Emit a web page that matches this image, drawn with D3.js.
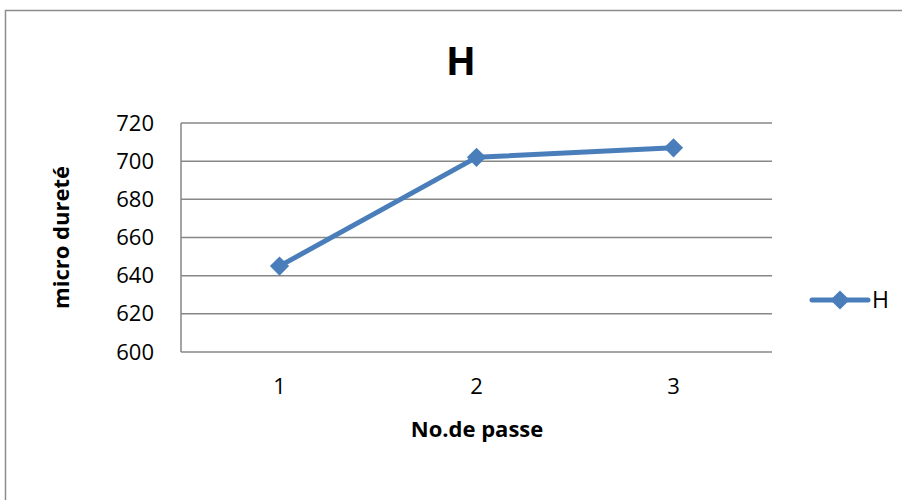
<!DOCTYPE html>
<html>
<head>
<meta charset="utf-8">
<script src="https://cdn.jsdelivr.net/npm/d3@7"></script>
<style>
  body { margin: 0; background: #fff; }
  svg { display: block; font-family: "Open Sans", "Liberation Sans", sans-serif; }
</style>
</head>
<body>
<svg id="chart" width="902" height="500"></svg>
<script>
const svg = d3.select("#chart");

// données
const passes = ["1", "2", "3"];
const hValues = [645, 702, 707];
const yTicks = [600, 620, 640, 660, 680, 700, 720];
const seriesName = "H";

const lineColor = "#4a7ebb";
const gridColor = "#878787";

// bordure du graphique
svg.append("rect")
    .attr("x", 5.5).attr("y", 10.5)
    .attr("width", 930).attr("height", 530)
    .attr("fill", "#fff")
    .attr("stroke", "#8c8c8c")
    .attr("stroke-width", 1.5);

const plot = { left: 181, right: 772, top: 123, bottom: 352 };

const x = d3.scaleBand()
    .domain(passes)
    .range([plot.left, plot.right]);

const y = d3.scaleLinear()
    .domain([600, 720])
    .range([plot.bottom, plot.top]);

// grille horizontale
svg.append("g")
    .selectAll("line")
    .data(yTicks)
    .enter().append("line")
    .attr("x1", plot.left).attr("x2", plot.right)
    .attr("y1", d => y(d)).attr("y2", d => y(d))
    .attr("stroke", gridColor)
    .attr("stroke-width", 1.5);

// axe vertical
svg.append("line")
    .attr("x1", plot.left).attr("x2", plot.left)
    .attr("y1", plot.top).attr("y2", plot.bottom)
    .attr("stroke", gridColor)
    .attr("stroke-width", 1.5);

// libellés Y
const yAxis = d3.axisLeft(y).tickValues(yTicks).tickSize(0).tickPadding(27);
const gy = svg.append("g")
    .attr("transform", `translate(${plot.left},0)`)
    .call(yAxis);
gy.select(".domain").remove();
gy.selectAll("text")
    .attr("font-size", 22)
    .attr("fill", "#000")
    .attr("font-family", "Open Sans");

// libellés X
const xAxis = d3.axisBottom(x).tickSize(0).tickPadding(26);
const gx = svg.append("g")
    .attr("transform", `translate(0,${plot.bottom})`)
    .call(xAxis);
gx.select(".domain").remove();
gx.selectAll("text")
    .attr("font-size", 22)
    .attr("fill", "#000")
    .attr("font-family", "Open Sans");

// titres
svg.append("text")
    .attr("x", 461).attr("y", 75)
    .attr("text-anchor", "middle")
    .attr("font-size", 39)
    .attr("font-weight", "bold")
    .text("H");

svg.append("text")
    .attr("x", 477).attr("y", 437)
    .attr("text-anchor", "middle")
    .attr("font-size", 22)
    .attr("font-weight", "bold")
    .text("No.de passe");

svg.append("text")
    .attr("transform", `translate(69,${(plot.top + plot.bottom) / 2}) rotate(-90)`)
    .attr("text-anchor", "middle")
    .attr("font-size", 22)
    .attr("font-weight", "bold")
    .text("micro dureté");

// série
const data = passes.map((p, i) => ({ p: p, v: hValues[i] }));
const cx = d => x(d.p) + x.bandwidth() / 2;

svg.append("path")
    .datum(data)
    .attr("fill", "none")
    .attr("stroke", lineColor)
    .attr("stroke-width", 5)
    .attr("stroke-linejoin", "round")
    .attr("stroke-linecap", "round")
    .attr("d", d3.line().x(cx).y(d => y(d.v)));

const diamond = d3.symbol().type(d3.symbolSquare).size(185);

svg.append("g")
    .selectAll("path")
    .data(data)
    .enter().append("path")
    .attr("d", diamond)
    .attr("fill", lineColor)
    .attr("transform", d => `translate(${cx(d)},${y(d.v)}) rotate(45)`);

// légende
const leg = svg.append("g").attr("transform", "translate(812,300)");
leg.append("line")
    .attr("x1", 0).attr("x2", 56)
    .attr("y1", 0).attr("y2", 0)
    .attr("stroke", lineColor)
    .attr("stroke-width", 5)
    .attr("stroke-linecap", "round");
leg.append("path")
    .attr("d", diamond)
    .attr("fill", lineColor)
    .attr("transform", "translate(28,0) rotate(45)");
leg.append("text")
    .attr("x", 60).attr("y", 8)
    .attr("font-size", 23)
    .text(seriesName);
</script>
</body>
</html>
